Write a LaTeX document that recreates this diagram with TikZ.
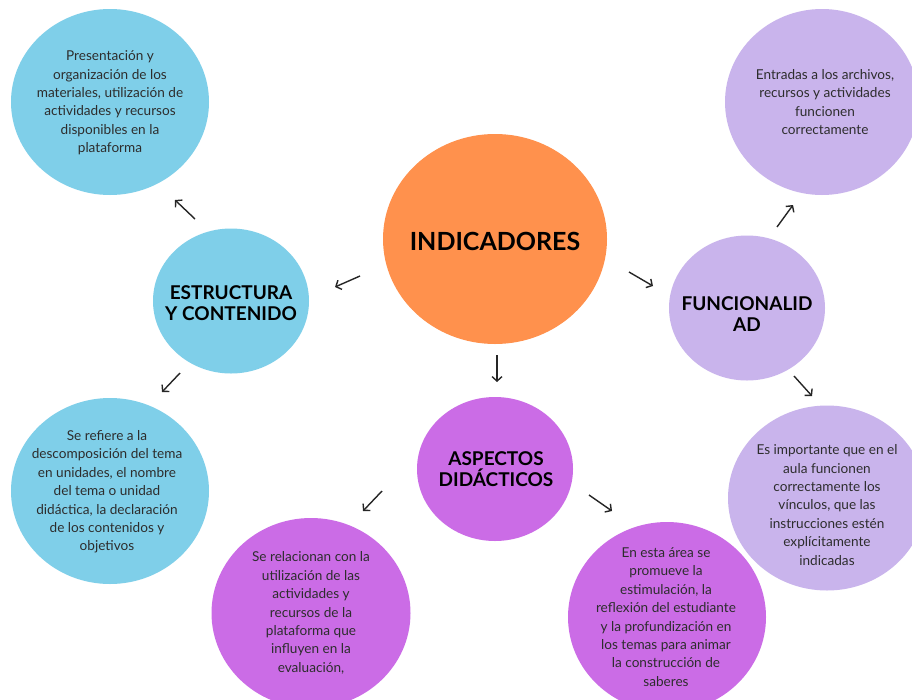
\documentclass[tikz,border=0pt]{standalone}
\usepackage{fontspec}
\setmainfont{Lato}
\usetikzlibrary{shapes.geometric,arrows.meta}
\definecolor{cblue}{RGB}{127,207,233}
\definecolor{corange}{RGB}{255,145,77}
\definecolor{clav}{RGB}{201,180,236}
\definecolor{cmag}{RGB}{203,108,230}
\definecolor{ctext}{RGB}{45,45,45}
\begin{document}
\begin{tikzpicture}[x=1pt,y=-1pt,
  blob/.style={ellipse,inner sep=0pt,draw=none},
  body/.style={align=center,text=ctext,font=\fontsize{13.6}{18.4}\selectfont,inner sep=0pt},
  headtxt/.style={align=center,text=black,font=\fontsize{19}{21}\selectfont\bfseries,inner sep=0pt},
  conn/.style={-{Straight Barb[length=4.5pt,width=10pt]},line width=1.4pt,black!85}]
\useasboundingbox (0,0) rectangle (912,699);
\clip (0,0) rectangle (912,699);
\fill[white] (0,0) rectangle (912,699);

% ellipses
\node[blob,fill=corange,minimum width=224pt,minimum height=210pt] (ind) at (495,239) {};
\node[blob,fill=cblue,minimum width=156pt,minimum height=145pt] (est) at (231,301) {};
\node[blob,fill=cblue,minimum width=198pt,minimum height=186pt] (tl) at (110,102) {};
\node[blob,fill=cblue,minimum width=198pt,minimum height=186pt] (bl) at (110,491) {};
\node[blob,fill=clav,minimum width=156pt,minimum height=145pt] (fun) at (747,308) {};
\node[blob,fill=clav,minimum width=194pt,minimum height=186pt] (tr) at (822,102) {};
\node[blob,fill=clav,minimum width=198pt,minimum height=185pt] (rm) at (827,498) {};
\node[blob,fill=cmag,minimum width=156pt,minimum height=144pt] (asp) at (495,469) {};
\node[blob,fill=cmag,minimum width=199pt,minimum height=190pt] (bm) at (311,613) {};
\node[blob,fill=cmag,minimum width=198pt,minimum height=190pt] (br) at (667,617) {};

% texts
\node[headtxt,font=\fontsize{25}{28}\selectfont\bfseries] (tind) at (495,241) {INDICADORES};
\node[headtxt] (test) at (231,303) {ESTRUCTURA\\Y CONTENIDO};
\node[headtxt] (tfun) at (747,314) {FUNCIONALID\\AD};
\node[headtxt] (tasp) at (496,469) {ASPECTOS\\DIDÁCTICOS};
\node[body] (ttl) at (110,103) {Presentación y\\organización de los\\materiales, utilización de\\actividades y recursos\\disponibles en la\\plataforma};
\node[body] (tbl) at (107,492) {Se refiere a la\\descomposición del tema\\en unidades, el nombre\\del tema o unidad\\didáctica, la declaración\\de los contenidos y\\objetivos};
\node[body] (ttr) at (825,102) {Entradas a los archivos,\\recursos y actividades\\funcionen\\correctamente};
\node[body] (trm) at (827,505) {Es importante que en el\\aula funcionen\\correctamente los\\vínculos, que las\\instrucciones estén\\explícitamente\\indicadas};
\node[body] (tbm) at (311,613) {Se relacionan con la\\utilización de las\\actividades y\\recursos de la\\plataforma que\\influyen en la\\evaluación,};
\node[body] (tbr) at (666,617) {En esta área se\\promueve la\\estimulación, la\\reflexión del estudiante\\y la profundización en\\los temas para animar\\la construcción de\\saberes};

% connector end points
\coordinate (a1s) at (360,276); \coordinate (a1e) at (335,287);
\coordinate (a2s) at (195,219); \coordinate (a2e) at (175,200);
\coordinate (a3s) at (180,373); \coordinate (a3e) at (162,392);
\coordinate (a4s) at (629,272); \coordinate (a4e) at (653,286);
\coordinate (a5s) at (777,227); \coordinate (a5e) at (793,205);
\coordinate (a6s) at (794,376); \coordinate (a6e) at (812,396);
\coordinate (a7s) at (497,355); \coordinate (a7e) at (497,382);
\coordinate (a8s) at (382,491); \coordinate (a8e) at (363,511);
\coordinate (a9s) at (589,495); \coordinate (a9e) at (612,511);

\draw[conn] (a1s) -- (a1e);
\draw[conn] (a2s) -- (a2e);
\draw[conn] (a3s) -- (a3e);
\draw[conn] (a4s) -- (a4e);
\draw[conn] (a5s) -- (a5e);
\draw[conn] (a6s) -- (a6e);
\draw[conn] (a7s) -- (a7e);
\draw[conn] (a8s) -- (a8e);
\draw[conn] (a9s) -- (a9e);
\end{tikzpicture}
\end{document}
